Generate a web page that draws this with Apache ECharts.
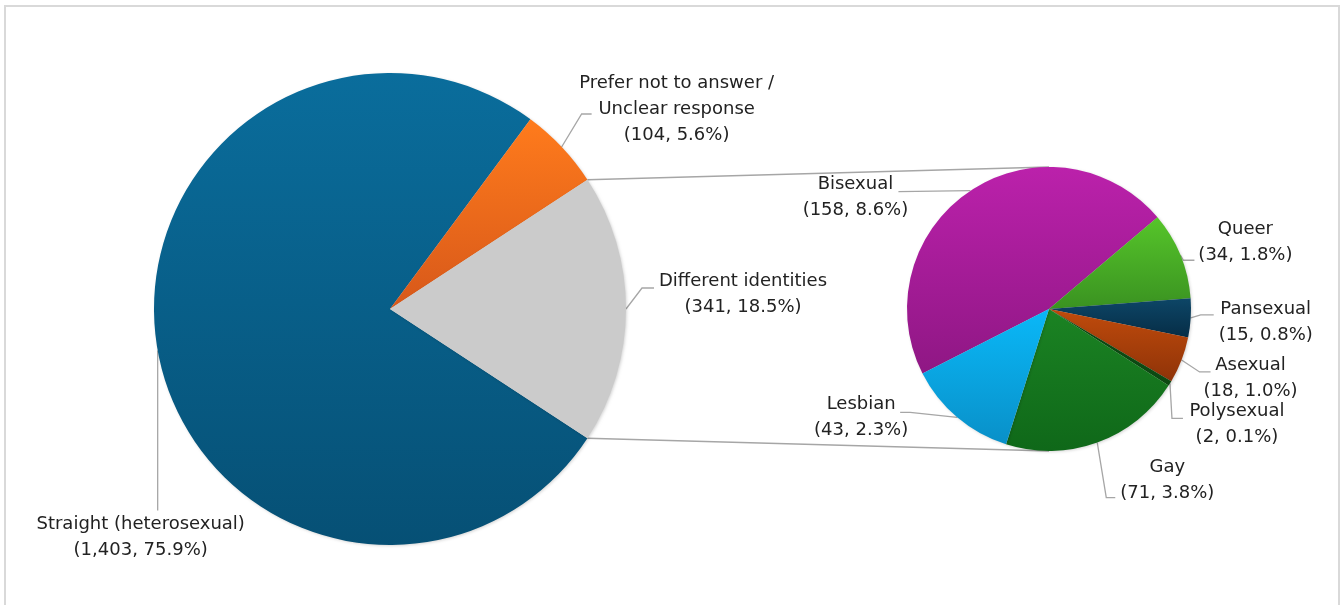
<!DOCTYPE html>
<html>
<head>
<meta charset="utf-8">
<script src="https://cdn.jsdelivr.net/npm/echarts@6/dist/echarts.min.js"></script>
<style>
html,body{margin:0;padding:0;background:#ffffff;}
#chart{width:1344px;height:605px;}
</style>
</head>
<body>
<div id="chart"></div>
<script>
// ---------------- DATA ----------------
const mainCategories = ['Straight (heterosexual)', 'Prefer not to answer / Unclear response', 'Different identities'];
const mainValues = [1403, 104, 341];
const mainPercents = [75.9, 5.6, 18.5];
const subCategories = ['Bisexual', 'Queer', 'Pansexual', 'Asexual', 'Polysexual', 'Gay', 'Lesbian'];
const subValues = [158, 34, 15, 18, 2, 71, 43];
const subPercents = [8.6, 1.8, 0.8, 1.0, 0.1, 3.8, 2.3];

// ---------------- LAYOUT / STYLE ----------------
const MAIN = { cx: 390, cy: 309, r: 236 };
const SUB = { cx: 1049, cy: 309, r: 142 };
const SUB_START = 207;

const grandTotal = mainValues.reduce((a, b) => a + b, 0);
const otherIdx = mainCategories.indexOf('Different identities');
const otherFrac = mainValues[otherIdx] / grandTotal;
const MAIN_START = 360 - otherFrac * 180;

function grad(top, bottom) {
  return { type: 'linear', x: 0, y: 0, x2: 0, y2: 1, colorStops: [{ offset: 0, color: top }, { offset: 1, color: bottom }] };
}
const mainColors = [grad('#0a6d9c', '#065075'), grad('#ff7b1c', '#d7581a'), '#cbcbcb'];
const subColors = [
  grad('#bb21ab', '#8f1784'),
  grad('#56c52a', '#3a9221'),
  grad('#0d4667', '#062d46'),
  grad('#c04b0c', '#8f3308'),
  '#0c4a12',
  grad('#1b8323', '#0f6819'),
  grad('#0ab8f8', '#0990c8')
];

// label offsets relative to the slice mid-point on the rim: [label centre], [elbow], [end]
const mainLabelPos = [
  { label: [-17, 187], elbow: [0, 160], end: [0, 160] },
  { label: [115, -38], elbow: [20, -33], end: [30, -33] },
  { label: [117, -15], elbow: [16, -21], end: [28, -21] }
];
const subLabelPos = [
  { label: [-115, 7], elbow: [-72, 1], end: [-72, 1] },
  { label: [65, -13], elbow: [3, 5], end: [14, 5] },
  { label: [75, 4], elbow: [10, -3], end: [23, -3] },
  { label: [69, 18], elbow: [18, 12], end: [29, 12] },
  { label: [67, 41], elbow: [2, 35], end: [13, 35] },
  { label: [70, 38], elbow: [9, 55], end: [18, 55] },
  { label: [-96, 0], elbow: [-47, -5], end: [-57, -5] }
];

function midAngles(values, start) {
  const t = values.reduce((a, b) => a + b, 0);
  let cum = 0;
  return values.map(v => { const m = start - (cum + v / 2) / t * 360; cum += v; return m; });
}
function rimPoint(geo, deg) {
  const a = deg * Math.PI / 180;
  return [geo.cx + geo.r * Math.cos(a), geo.cy - geo.r * Math.sin(a)];
}
const mainMid = midAngles(mainValues, MAIN_START);
const subMid = midAngles(subValues, SUB_START);

function makeLayout(geo, mids, pos) {
  return function (params) {
    const i = params.dataIndex;
    const p = rimPoint(geo, mids[i]);
    const c = pos[i];
    return {
      x: p[0] + c.label[0],
      y: p[1] + c.label[1],
      align: 'center',
      verticalAlign: 'middle',
      labelLinePoints: [p, [p[0] + c.elbow[0], p[1] + c.elbow[1]], [p[0] + c.end[0], p[1] + c.end[1]]]
    };
  };
}

function makeFormatter(percents) {
  return function (params) {
    const name = params.name.replace(' / ', ' /\n');
    return name + '\n(' + params.value.toLocaleString('en-US') + ', ' + percents[params.dataIndex].toFixed(1) + '%)';
  };
}

function labelStyle(percents) {
  return {
    show: true,
    position: 'outside',
    formatter: makeFormatter(percents),
    color: '#222222',
    fontFamily: 'DejaVu Sans',
    fontSize: 18,
    lineHeight: 26
  };
}
const labelLineStyle = { show: true, length: 10, length2: 10, lineStyle: { color: '#a6a6a6', width: 1.3 } };
const shadow = { shadowBlur: 3, shadowOffsetX: 1, shadowOffsetY: 1, shadowColor: 'rgba(0,0,0,0.16)' };

// connector lines between pies
const top1 = rimPoint(MAIN, otherFrac * 180);
const bot1 = rimPoint(MAIN, -otherFrac * 180);
const top2 = [SUB.cx, SUB.cy - SUB.r];
const bot2 = [SUB.cx, SUB.cy + SUB.r];

const chart = echarts.init(document.getElementById('chart'), null, { renderer: 'canvas' });
chart.setOption({
  animation: false,
  backgroundColor: '#ffffff',
  graphic: [
    { type: 'rect', z: 0, shape: { x: 5, y: 6, width: 1334, height: 640 }, style: { fill: 'none', stroke: '#d9d9d9', lineWidth: 2 } },
    { type: 'line', z: 0, shape: { x1: top1[0], y1: top1[1], x2: top2[0], y2: top2[1] }, style: { stroke: '#a6a6a6', lineWidth: 1.5 } },
    { type: 'line', z: 0, shape: { x1: bot1[0], y1: bot1[1], x2: bot2[0], y2: bot2[1] }, style: { stroke: '#a6a6a6', lineWidth: 1.5 } }
  ],
  series: [
    {
      type: 'pie',
      z: 3,
      center: [MAIN.cx, MAIN.cy],
      radius: MAIN.r,
      startAngle: MAIN_START,
      clockwise: true,
      avoidLabelOverlap: false,
      silent: true,
      data: mainCategories.map((n, i) => ({ name: n, value: mainValues[i], itemStyle: Object.assign({ color: mainColors[i] }, shadow) })),
      label: labelStyle(mainPercents),
      labelLine: labelLineStyle,
      labelLayout: makeLayout(MAIN, mainMid, mainLabelPos)
    },
    {
      type: 'pie',
      z: 3,
      center: [SUB.cx, SUB.cy],
      radius: SUB.r,
      startAngle: SUB_START,
      clockwise: true,
      avoidLabelOverlap: false,
      silent: true,
      data: subCategories.map((n, i) => ({ name: n, value: subValues[i], itemStyle: Object.assign({ color: subColors[i] }, shadow) })),
      label: labelStyle(subPercents),
      labelLine: labelLineStyle,
      labelLayout: makeLayout(SUB, subMid, subLabelPos)
    }
  ]
});
</script>
</body>
</html>
